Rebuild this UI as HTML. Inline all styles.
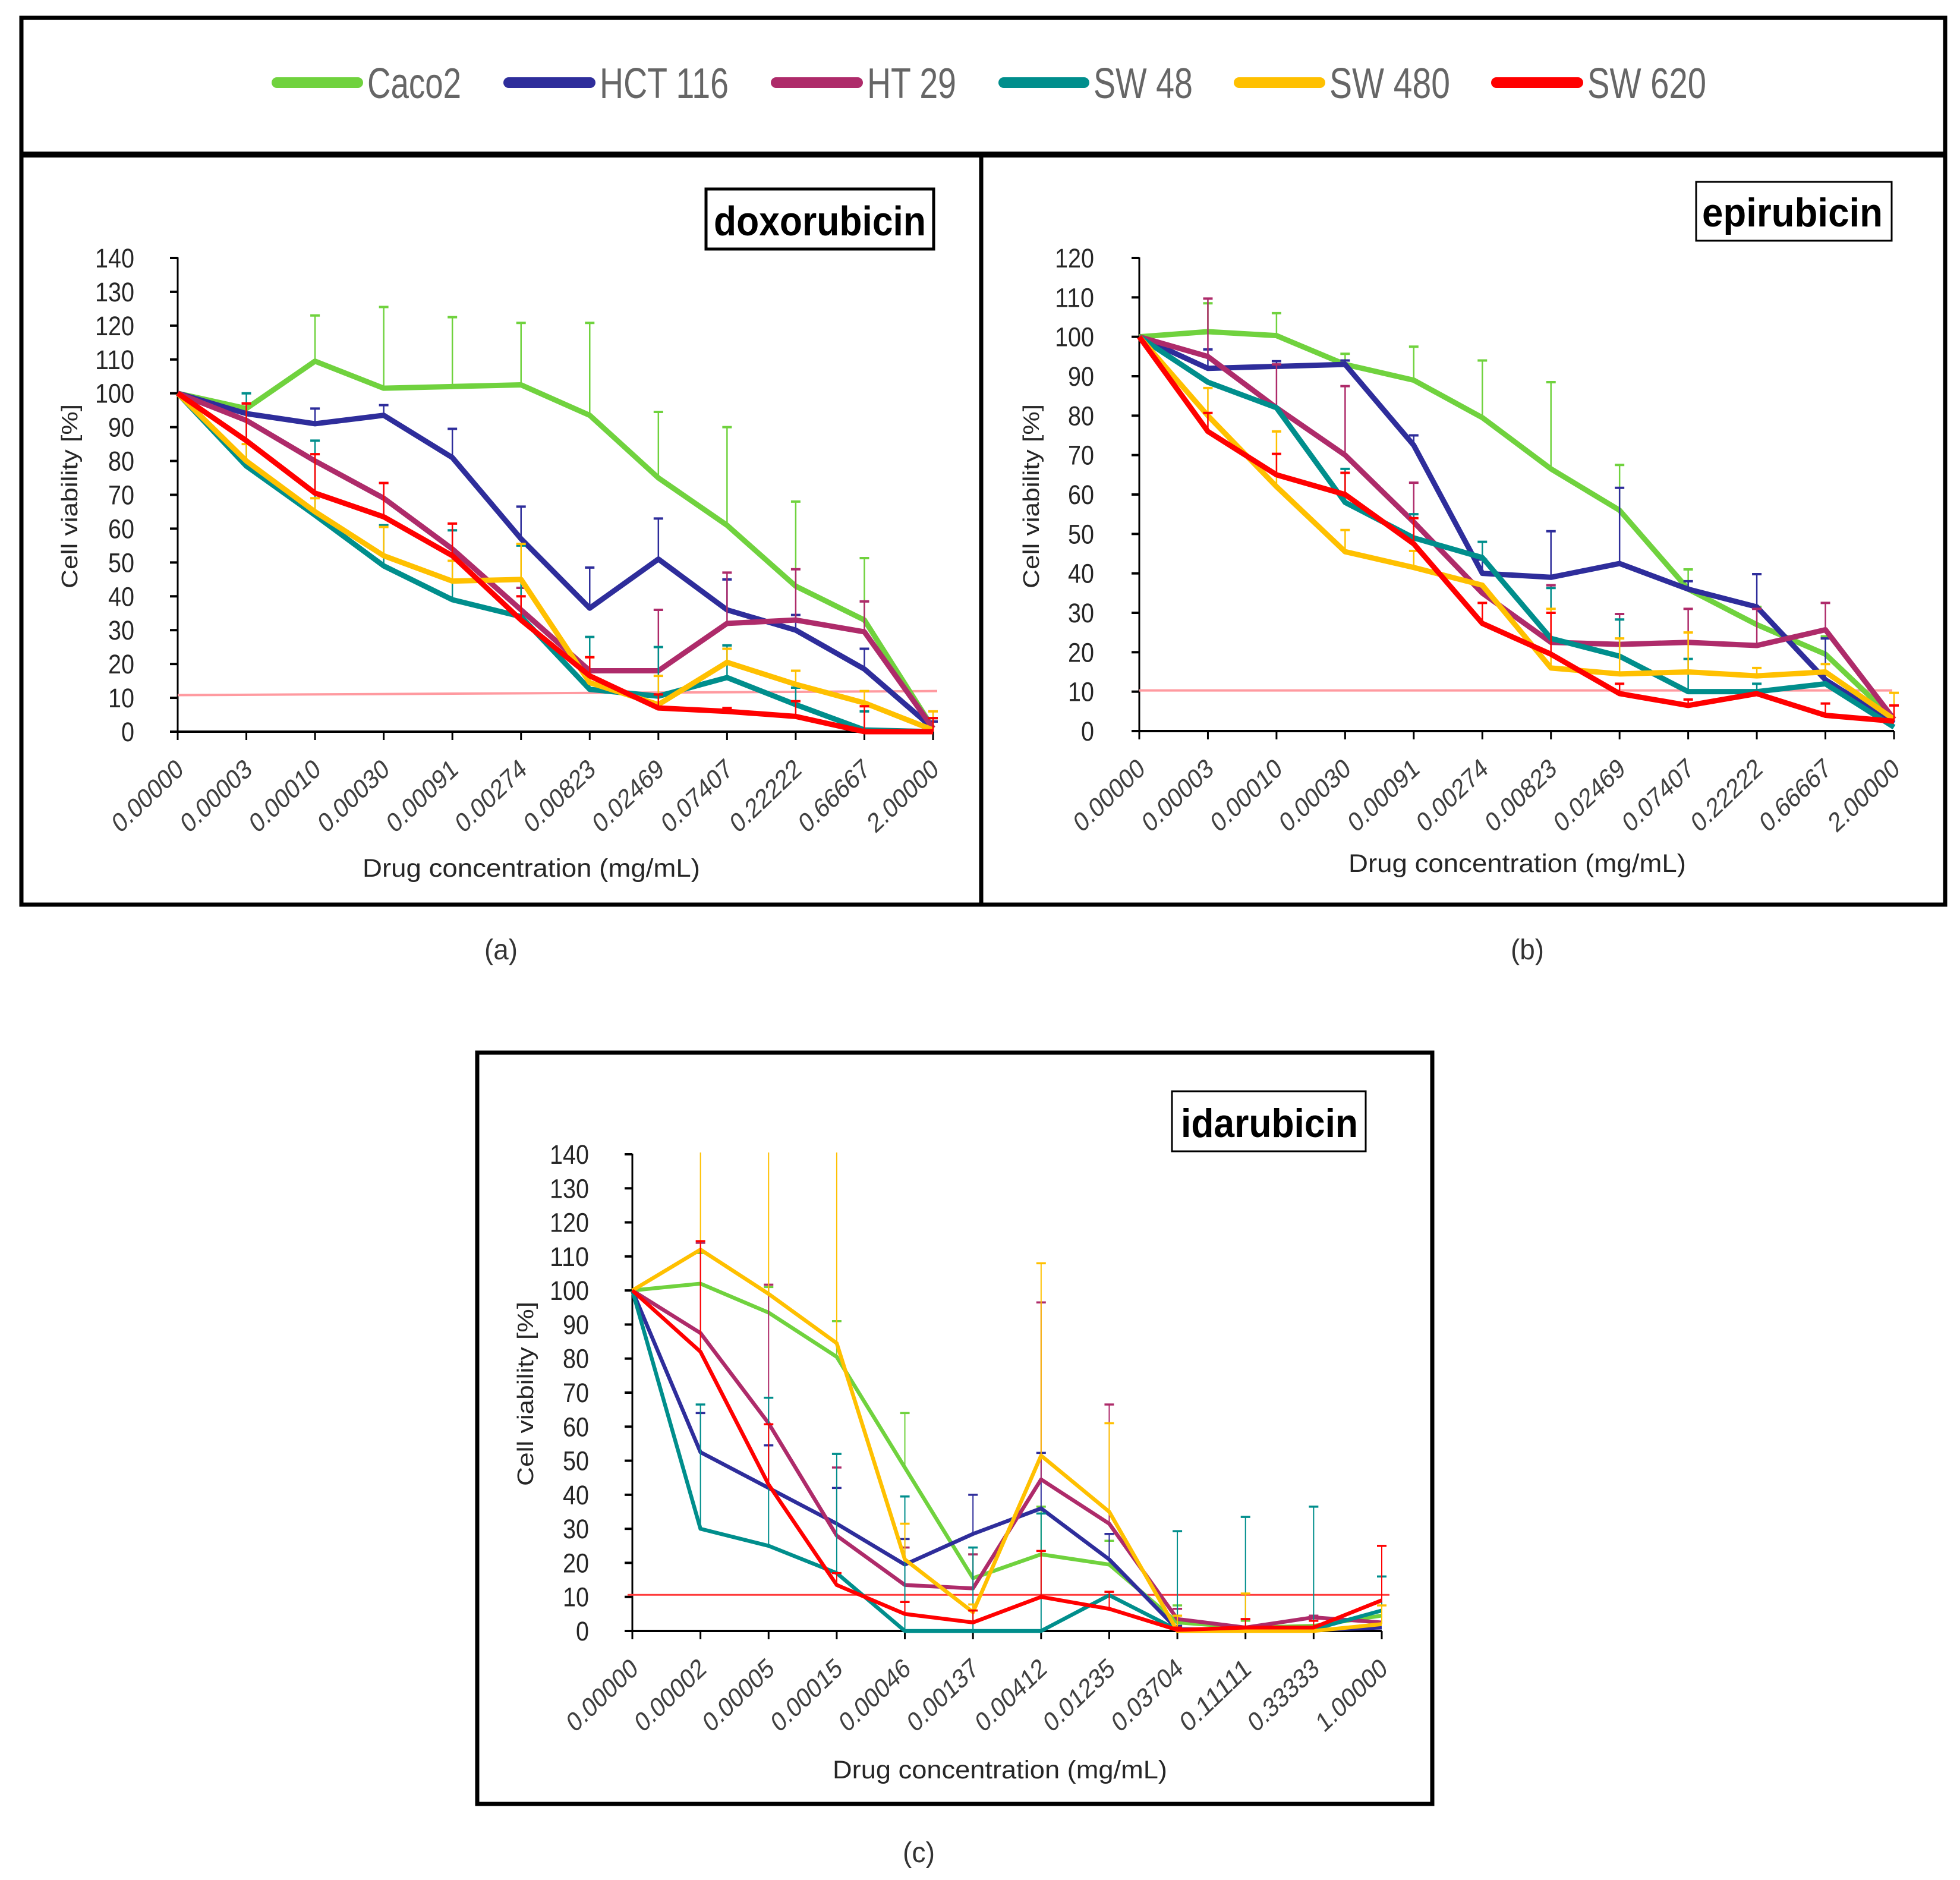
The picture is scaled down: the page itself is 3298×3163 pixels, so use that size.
<!DOCTYPE html>
<html>
<head>
<meta charset="utf-8">
<title>Cell viability charts</title>
<style>
html,body{margin:0;padding:0;background:#fff;}
svg{display:block;}
text{font-family:"Liberation Sans",sans-serif;}
</style>
</head>
<body>
<svg id="figure" xmlns="http://www.w3.org/2000/svg" width="3298" height="3163" viewBox="0 0 3298 3163">
  <rect x="0" y="0" width="3298" height="3163" fill="#ffffff"/>
  <g>
    <line x1="466" y1="139" x2="602" y2="139" stroke="#70D23E" stroke-width="18" stroke-linecap="round"/>
    <text x="618" y="165" font-size="72" fill="#666666" textLength="158" lengthAdjust="spacingAndGlyphs">Caco2</text>
    <line x1="856" y1="139" x2="993" y2="139" stroke="#2E2D9B" stroke-width="18" stroke-linecap="round"/>
    <text x="1009" y="165" font-size="72" fill="#666666" textLength="217" lengthAdjust="spacingAndGlyphs">HCT 116</text>
    <line x1="1306" y1="139" x2="1443" y2="139" stroke="#AE2B6A" stroke-width="18" stroke-linecap="round"/>
    <text x="1459" y="165" font-size="72" fill="#666666" textLength="150" lengthAdjust="spacingAndGlyphs">HT 29</text>
    <line x1="1689" y1="139" x2="1824" y2="139" stroke="#008E8C" stroke-width="18" stroke-linecap="round"/>
    <text x="1840" y="165" font-size="72" fill="#666666" textLength="167" lengthAdjust="spacingAndGlyphs">SW 48</text>
    <line x1="2085" y1="139" x2="2221" y2="139" stroke="#FFC000" stroke-width="18" stroke-linecap="round"/>
    <text x="2237" y="165" font-size="72" fill="#666666" textLength="203" lengthAdjust="spacingAndGlyphs">SW 480</text>
    <line x1="2518" y1="139" x2="2655" y2="139" stroke="#FF0000" stroke-width="18" stroke-linecap="round"/>
    <text x="2671" y="165" font-size="72" fill="#666666" textLength="200" lengthAdjust="spacingAndGlyphs">SW 620</text>
  </g>
  <g id="frames" fill="none" stroke="#000000">
    <rect x="36" y="30" width="3237" height="1492" stroke-width="7"/>
    <line x1="36" y1="260" x2="3272" y2="260" stroke-width="10"/>
    <line x1="1651" y1="260" x2="1651" y2="1521" stroke-width="7"/>
    <rect x="803" y="1771" width="1607" height="1264" stroke-width="7"/>
  </g>
  <g id="chart-a"></g>
  <g id="chart-b"></g>
  <g id="chart-c"></g>

  <g>
    <rect x="1188" y="318" width="383" height="101" fill="#fff" stroke="#000" stroke-width="5"/>
    <text x="1201" y="396" font-size="70" font-weight="bold" fill="#000" textLength="357" lengthAdjust="spacingAndGlyphs">doxorubicin</text>
  </g>
  <g>
    <rect x="2854" y="306" width="329" height="99" fill="#fff" stroke="#000" stroke-width="3"/>
    <text x="2864" y="381" font-size="68" font-weight="bold" fill="#000" textLength="304" lengthAdjust="spacingAndGlyphs">epirubicin</text>
  </g>
  <g>
    <rect x="1972" y="1836" width="326" height="101" fill="#fff" stroke="#000" stroke-width="3"/>
    <text x="1987" y="1913" font-size="68" font-weight="bold" fill="#000" textLength="298" lengthAdjust="spacingAndGlyphs">idarubicin</text>
  </g>

  <text x="843" y="1614" font-size="48" text-anchor="middle" fill="#333" textLength="56" lengthAdjust="spacingAndGlyphs">(a)</text>
  <text x="2570" y="1614" font-size="48" text-anchor="middle" fill="#333" textLength="56" lengthAdjust="spacingAndGlyphs">(b)</text>
  <text x="1546" y="3133" font-size="48" text-anchor="middle" fill="#333" textLength="54" lengthAdjust="spacingAndGlyphs">(c)</text>
</svg>

<script>
// ---------- shared ----------
const seriesNames = ['Caco2', 'HCT 116', 'HT 29', 'SW 48', 'SW 480', 'SW 620'];
const seriesColors = ['#70D23E', '#2E2D9B', '#AE2B6A', '#008E8C', '#FFC000', '#FF0000'];

// ---------- doxorubicin ----------
const doxCategories = ['0.00000','0.00003','0.00010','0.00030','0.00091','0.00274','0.00823','0.02469','0.07407','0.22222','0.66667','2.00000'];
const doxYTicks = [0,10,20,30,40,50,60,70,80,90,100,110,120,130,140];
const doxThreshold = [10.8, 12];
const doxCaco2 = [100,95.5,109.5,101.5,102,102.5,93.5,75,61,43,33,1];
const doxHct116 = [100,94,91,93.5,81,57,36.5,51,36,30,18.5,1];
const doxHt29 = [100,92,80,69,54,36,18,18,32,33,29.5,1];
const doxSw48 = [100,78.5,64,49,39,34,12.5,10.5,16,8,0.5,0];
const doxSw480 = [100,80,65,52,44.5,45,14.5,8,20.5,14,8.5,0.5];
const doxSw620 = [100,86,70.5,63.5,52,33,16.5,7,6,4.5,0,0];
const doxCaco2Err = [null,97,123,125.5,122.5,120.8,120.8,94.5,90,68,51.3,3];
const doxHct116Err = [null,null,95.5,96.5,89.5,66.5,48.5,63,45,34.5,24.5,3];
const doxHt29Err = [null,97,null,73.5,null,42.5,null,36,47,48,38.5,null];
const doxSw48Err = [null,100,86,61,59.5,55,28,25,25.5,13,6,4];
const doxSw480Err = [null,85,69,60.5,50.5,55.5,22,16.5,24.5,18,12,6];
const doxSw620Err = [null,97,82,73.5,61.5,40,22,11,7,9,7.5,4];

// ---------- epirubicin ----------
const epiCategories = ['0.00000','0.00003','0.00010','0.00030','0.00091','0.00274','0.00823','0.02469','0.07407','0.22222','0.66667','2.00000'];
const epiYTicks = [0,10,20,30,40,50,60,70,80,90,100,110,120];
const epiThreshold = [10.3, 10.3];
const epiCaco2 = [100,101.3,100.3,93,89,79.5,66.5,56,36,27,19.5,3];
const epiHct116 = [100,92,92.5,93,72.5,40,39,42.5,36,31.5,13,2];
const epiHt29 = [100,95,82,70,53,35,22.5,22,22.5,21.7,25.7,3];
const epiSw48 = [100,88.5,82,58,49,44,23.5,19,10,10,12,1];
const epiSw480 = [100,80,62,45.5,41.5,37,16,14.5,15,14,15,3];
const epiSw620 = [100,76,65,60,47.5,27.3,19.5,9.5,6.5,9.5,4,2.5];
const epiCaco2Err = [null,108.5,106,95.7,97.5,94,88.5,67.5,41,31.5,24,null];
const epiHct116Err = [null,96.8,93.8,94,75,43.5,50.7,61.7,38,39.8,23.5,null];
const epiHt29Err = [null,109.7,93,87.5,63,null,37,29.7,31,31,32.5,null];
const epiSw48Err = [null,null,null,66.5,55,48,36.3,28.3,18.3,12,null,null];
const epiSw480Err = [null,87,76,51,45.7,null,31,23.5,25,16,17,9.7];
const epiSw620Err = [null,80.7,70.3,65.5,54,32.5,30,12,8,null,7,6.5];

// ---------- idarubicin ----------
const idaCategories = ['0.00000','0.00002','0.00005','0.00015','0.00046','0.00137','0.00412','0.01235','0.03704','0.11111','0.33333','1.00000'];
const idaYTicks = [0,10,20,30,40,50,60,70,80,90,100,110,120,130,140];
const idaThreshold = [10.6, 10.6];
const idaCaco2 = [100,102,93.5,80.5,48,15.5,22.5,19.5,2.5,1,1.5,4.5];
const idaHct116 = [100,52.5,42,31.5,19.5,28.5,36,21,0.5,0.5,0.3,1];
const idaHt29 = [100,87.5,61,28,13.5,12.5,44.5,31.5,3.5,1,4,2.5];
const idaSw48 = [100,30,25,17,0,0,0,10.5,0.3,0.3,0.5,6];
const idaSw480 = [100,112,99,84.5,21,5.5,51.5,35,0,0,0,2];
const idaSw620 = [100,82,43,13.5,5,2.5,10,6.5,0.3,1,1,9];
const idaCaco2Err = [null,111,101,91,64,22.5,36.5,26.5,7.5,3,null,null];
const idaHct116Err = [null,64,54.5,42,27,40,52.3,28.5,1.5,null,null,null];
const idaHt29Err = [null,114,101.7,48,24.5,22.5,96.5,66.5,6.5,3.5,4.5,null];
const idaSw48Err = [null,66.5,68.5,52,39.5,24.5,34.5,11.5,29.3,33.5,36.5,16];
const idaSw480Err = [null,160,160,160,31.5,7.8,108,61,4.5,11,null,7.5];
const idaSw620Err = [null,114.5,60.7,17,8.5,6,23.5,11.5,1,3.5,3,25];

const SVG_NS = 'http://www.w3.org/2000/svg';

function mk(parent, tag, attrs) {
  const el = document.createElementNS(SVG_NS, tag);
  for (const k in attrs) el.setAttribute(k, attrs[k]);
  parent.appendChild(el);
  return el;
}

function drawChart(cfg) {
  const root = document.getElementById(cfg.id);
  const n = cfg.categories.length;
  const yMax = cfg.yTicks[cfg.yTicks.length - 1];
  const xScale = i => cfg.x0 + i * (cfg.x1 - cfg.x0) / (n - 1);
  const yScale = v => cfg.y0 - v * (cfg.y0 - cfg.yTop) / yMax;

  // clip so oversize error bars stop at the axis top
  const defs = mk(root, 'defs', {});
  const clip = mk(defs, 'clipPath', { id: cfg.id + '-clip' });
  mk(clip, 'rect', { x: cfg.x0 - 40, y: cfg.yTop - 3, width: cfg.x1 - cfg.x0 + 80, height: cfg.y0 - cfg.yTop + 40 });

  // axes
  const yAxis = mk(root, 'line', { x1: cfg.x0, y1: cfg.yTop - 1, x2: cfg.x0, y2: cfg.y0, stroke: '#000', 'stroke-width': 3 });
  
  
  const xAxis = mk(root, 'line', { x1: cfg.x0 - 13, y1: cfg.y0, x2: cfg.x1, y2: cfg.y0, stroke: '#000', 'stroke-width': 4 });
  
  

  cfg.yTicks.forEach(t => {
    const y = yScale(t);
    const tick = mk(root, 'line', { x1: cfg.x0 - 13, y1: y, x2: cfg.x0, y2: y, stroke: '#000', 'stroke-width': 4 });
    
    
    const label = mk(root, 'text', {
      x: cfg.x0 - cfg.yLabelGap, y: y + 16, 'font-size': 45, 'text-anchor': 'end', fill: '#262626',
      textLength: String(t).length * 22, lengthAdjust: 'spacingAndGlyphs'
    });
    label.textContent = t;
    
    
  });

  cfg.categories.forEach((c, i) => {
    const x = xScale(i);
    const tick = mk(root, 'line', { x1: x, y1: cfg.y0, x2: x, y2: cfg.y0 + 14, stroke: '#000', 'stroke-width': 3 });
    
    
    const lx = x + cfg.xLabelDx;
    const ly = cfg.y0 + cfg.xLabelDy;
    // anisotropic scale reproduces the sheared look of the stretched source labels
    const label = mk(root, 'text', {
      x: 0, y: 0, 'font-size': 46, 'text-anchor': 'end', fill: '#404040',
      textLength: 168, lengthAdjust: 'spacingAndGlyphs',
      transform: 'translate(' + lx + ' ' + ly + ') scale(0.83 1) rotate(-38.4)'
    });
    label.textContent = c;
    
    
  });

  // threshold line
  const thr = mk(root, 'line', {
    x1: cfg.thrX0, y1: yScale(cfg.threshold[0]), x2: cfg.thrX1, y2: yScale(cfg.threshold[1]),
    stroke: cfg.thrColor, 'stroke-width': cfg.thrWidth
  });
  
  

  // series
  cfg.series.forEach((vals, s) => {
    const color = seriesColors[s];
    const g = mk(root, 'g', {});
    
    

    const errG = mk(g, 'g', { 'clip-path': 'url(#' + cfg.id + '-clip)' });
    cfg.errors[s].forEach((top, i) => {
      if (top === null) return;
      const x = xScale(i);
      const bar = mk(errG, 'line', { x1: x, y1: yScale(vals[i]), x2: x, y2: yScale(top), stroke: color, 'stroke-width': cfg.errWidth });
      
      
      const cap = mk(errG, 'line', { x1: x - 8, y1: yScale(top), x2: x + 8, y2: yScale(top), stroke: color, 'stroke-width': cfg.errWidth + 1.5 });
      
      
    });

    const pts = vals.map((v, i) => xScale(i) + ',' + yScale(v)).join(' ');
    const line = mk(g, 'polyline', { points: pts, fill: 'none', stroke: color, 'stroke-width': cfg.lineWidth, 'stroke-linejoin': 'round' });
    
    
  });

  // axis titles
  const xt = mk(root, 'text', { x: cfg.xTitleX, y: cfg.xTitleY, 'font-size': 43, fill: '#262626', textLength: cfg.xTitleLen, lengthAdjust: 'spacingAndGlyphs' });
  xt.textContent = 'Drug concentration (mg/mL)';
  
  
  const yt = mk(root, 'text', {
    x: cfg.yTitleX, y: cfg.yTitleY, 'font-size': 38, fill: '#262626', 'text-anchor': 'middle',
    textLength: 310, lengthAdjust: 'spacingAndGlyphs',
    transform: 'rotate(-90 ' + cfg.yTitleX + ' ' + cfg.yTitleY + ')'
  });
  yt.textContent = 'Cell viability [%]';
  
  
}

drawChart({
  id: 'chart-a', categories: doxCategories, yTicks: doxYTicks, threshold: doxThreshold,
  series: [doxCaco2, doxHct116, doxHt29, doxSw48, doxSw480, doxSw620],
  errors: [doxCaco2Err, doxHct116Err, doxHt29Err, doxSw48Err, doxSw480Err, doxSw620Err],
  x0: 299, x1: 1570, y0: 1231, yTop: 434, lineWidth: 9, errWidth: 2.5, yLabelGap: 73,
  xLabelDx: 12, xLabelDy: 68, thrX0: 299, thrX1: 1577, thrColor: '#FF9AA0', thrWidth: 4,
  xTitleX: 610, xTitleY: 1475, xTitleLen: 568, yTitleX: 130, yTitleY: 835
});
drawChart({
  id: 'chart-b', categories: epiCategories, yTicks: epiYTicks, threshold: epiThreshold,
  series: [epiCaco2, epiHct116, epiHt29, epiSw48, epiSw480, epiSw620],
  errors: [epiCaco2Err, epiHct116Err, epiHt29Err, epiSw48Err, epiSw480Err, epiSw620Err],
  x0: 1917, x1: 3187, y0: 1230, yTop: 434, lineWidth: 9, errWidth: 2.5, yLabelGap: 76,
  xLabelDx: 12, xLabelDy: 68, thrX0: 1917, thrX1: 3184, thrColor: '#FF9AA0', thrWidth: 4,
  xTitleX: 2269, xTitleY: 1467, xTitleLen: 568, yTitleX: 1748, yTitleY: 835
});
drawChart({
  id: 'chart-c', categories: idaCategories, yTicks: idaYTicks, threshold: idaThreshold,
  series: [idaCaco2, idaHct116, idaHt29, idaSw48, idaSw480, idaSw620],
  errors: [idaCaco2Err, idaHct116Err, idaHt29Err, idaSw48Err, idaSw480Err, idaSw620Err],
  x0: 1064, x1: 2325, y0: 2744, yTop: 1942, lineWidth: 6.5, errWidth: 2, yLabelGap: 73,
  xLabelDx: 12, xLabelDy: 68, thrX0: 1056, thrX1: 2338, thrColor: '#FF3B3B', thrWidth: 3,
  xTitleX: 1401, xTitleY: 2992, xTitleLen: 563, yTitleX: 897, yTitleY: 2345
});
</script>
</body>
</html>
